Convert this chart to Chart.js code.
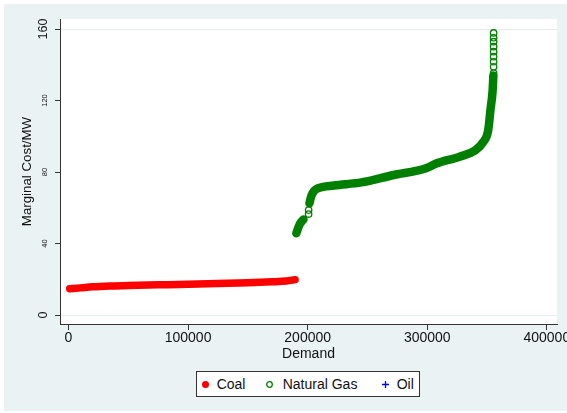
<!DOCTYPE html>
<html>
<head>
<meta charset="utf-8">
<script src="https://cdn.jsdelivr.net/npm/chart.js@4.4.1/dist/chart.umd.min.js"></script>
<style>
  body { margin: 0; background: #fff; }
  #wrap { position: relative; width: 567px; height: 413px; }
  #legend {
    position: absolute; left: 196px; top: 371px; width: 224px; height: 26px;
    box-sizing: border-box; border: 1px solid #333; background: #fff;
    font-family: "Liberation Sans", Arial, sans-serif; font-size: 14px; color: #111;
  }
  #legend span, #legend svg { position: absolute; }
  #legend span { top: 0; line-height: 24px; white-space: nowrap; }
  #legend svg { top: 8.5px; }
</style>
</head>
<body>
<div id="wrap">
  <canvas id="chart" width="567" height="413"></canvas>
  <div id="legend">
    <svg style="left:4.5px" width="7" height="7"><circle cx="3.5" cy="3.5" r="3.5" fill="#ff0000"/></svg>
    <span style="left:19.7px">Coal</span>
    <svg style="left:68.8px" width="7" height="7"><circle cx="3.5" cy="3.5" r="2.8" fill="none" stroke="#008000" stroke-width="1.3"/></svg>
    <span style="left:85.7px">Natural Gas</span>
    <svg style="left:184.5px" width="7" height="7"><path d="M3.5 0V7M0 3.5H7" stroke="#0000ff" stroke-width="1.3"/></svg>
    <span style="left:199.7px">Oil</span>
  </div>
</div>
<script>
// valeurs
const coalDemand = [1000, 10000, 20000, 35000, 50000, 75000, 100000, 125000, 150000, 170000, 182000, 189500];
const coalCost = [14.7, 15.2, 15.8, 16.3, 16.6, 16.9, 17.2, 17.6, 18.1, 18.6, 19.0, 19.8];

// null = trou dans la courbe
const gasDemand = [190500, 193500, 196500, 198000, 201500, 203000, 205500, 209000, 222000, 245000,
                   271000, 299000, 307000, 327000, 340500, 346500, 351000, 353000, 354600, 355300];
const gasCost = [45.8, 51.0, 53.5, null, 62.5, 66.5, 69.5, 71.0, 72.5, 74.2,
                 78.2, 82.1, 84.6, 88.6, 92.3, 96.5, 103.5, 115.6, 125, 134];

// marqueurs isolés (cercles creux visibles)
const gasTopDemand = [200800, 200800, 355500, 355500, 355500, 355500, 355500, 355500, 355500, 355500, 355500];
const gasTopCost = [56.5, 58.7, 135.4, 138.9, 141.7, 144.5, 147.3, 150.1, 152.9, 155.1, 157.8];

const oilDemand = [];
const oilCost = [];

const xTicks = [0, 100000, 200000, 300000, 400000];
const yTicks = [0, 40, 80, 120, 160];
const yMajor = [0, 160];

const family = '"Liberation Sans", Arial, sans-serif';

function pairs(xs, ys) {
    return xs.map((x, i) => ({ x: x, y: ys[i] }));
}

// fond gris-bleu + zone du graphique en blanc
const backdrop = {
    id: 'backdrop',
    beforeDraw(chart) {
        const { ctx, chartArea: a } = chart;
        ctx.save();
        ctx.fillStyle = '#eaf2f3';
        ctx.fillRect(4, 4, chart.width - 4, chart.height - 6);
        ctx.fillStyle = '#ffffff';
        ctx.fillRect(a.left, a.top, a.right - a.left, a.bottom - a.top);
        ctx.restore();
    }
};

// étiquettes de l'axe Y tournées à la verticale
const yLabels = {
    id: 'yLabels',
    afterDraw(chart) {
        const { ctx } = chart;
        const y = chart.scales.y;
        ctx.save();
        ctx.fillStyle = '#111';
        ctx.textAlign = 'center';
        ctx.textBaseline = 'alphabetic';
        y.ticks.forEach(t => {
            const big = yMajor.includes(t.value);
            ctx.font = (big ? 12.5 : 7.5) + 'px ' + family;
            ctx.save();
            ctx.translate(47, y.getPixelForValue(t.value));
            ctx.rotate(-Math.PI / 2);
            ctx.fillText(String(t.value), 0, 0);
            ctx.restore();
        });
        ctx.restore();
    }
};

new Chart(document.getElementById('chart'), {
    type: 'scatter',
    data: {
        datasets: [
            {
                label: 'Coal',
                data: pairs(coalDemand, coalCost),
                showLine: true,
                borderColor: '#ff0000',
                borderWidth: 7.5,
                borderCapStyle: 'round',
                borderJoinStyle: 'round',
                cubicInterpolationMode: 'monotone',
                pointRadius: 0
            },
            {
                label: 'Natural Gas',
                data: pairs(gasDemand, gasCost),
                showLine: true,
                spanGaps: false,
                borderColor: '#008000',
                borderWidth: 8.5,
                borderCapStyle: 'round',
                borderJoinStyle: 'round',
                cubicInterpolationMode: 'monotone',
                pointRadius: 0
            },
            {
                label: 'Natural Gas ',
                data: pairs(gasTopDemand, gasTopCost),
                showLine: false,
                pointRadius: 3.2,
                borderWidth: 1.3,
                borderColor: '#008000',
                backgroundColor: 'rgba(0,0,0,0)'
            },
            {
                label: 'Oil',
                data: pairs(oilDemand, oilCost),
                pointStyle: 'cross',
                borderColor: '#0000ff'
            }
        ]
    },
    options: {
        responsive: false,
        animation: false,
        layout: { padding: { left: 0, top: 19, right: 10, bottom: 50 } },
        plugins: {
            legend: { display: false },
            tooltip: { enabled: false }
        },
        scales: {
            x: {
                type: 'linear',
                min: -7100,
                max: 408500,
                afterBuildTicks: s => { s.ticks = xTicks.map(v => ({ value: v })); },
                afterFit: s => {
                    s.height = 39;
                    s.paddingLeft = 0;
                    s.paddingRight = 0;
                },
                ticks: {
                    color: '#111',
                    font: { size: 14, family: family },
                    padding: 0,
                    maxRotation: 0,
                    callback: v => String(v)
                },
                grid: { drawOnChartArea: false, tickLength: 6, tickColor: '#333' },
                border: { color: '#333', width: 1 },
                title: {
                    display: true,
                    text: 'Demand',
                    color: '#111',
                    font: { size: 14, family: family },
                    padding: { top: 0, bottom: 0.6 }
                }
            },
            y: {
                type: 'linear',
                min: -5,
                max: 165.6,
                afterBuildTicks: s => { s.ticks = yTicks.map(v => ({ value: v })); },
                afterFit: s => {
                    s.width = 60;
                    s.paddingTop = 0;
                    s.paddingBottom = 0;
                },
                ticks: { display: false },
                grid: {
                    color: c => (c.tick && yMajor.includes(c.tick.value)) ? '#e4edef' : 'rgba(0,0,0,0)',
                    tickLength: 5,
                    tickColor: '#333'
                },
                border: { color: '#333', width: 1 },
                title: {
                    display: true,
                    text: 'Marginal Cost/MW',
                    color: '#111',
                    font: { size: 13.3, family: family },
                    padding: { top: 19, bottom: 0 }
                }
            }
        }
    },
    plugins: [backdrop, yLabels]
});
</script>
</body>
</html>
